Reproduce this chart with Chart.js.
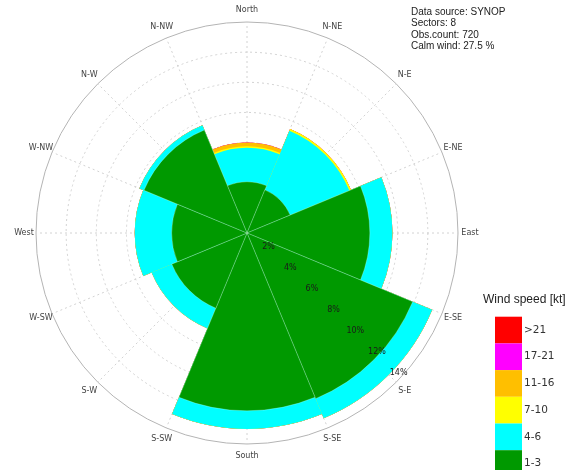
<!DOCTYPE html>
<html>
<head>
<meta charset="utf-8">
<title>Wind rose</title>
<script src="https://cdn.jsdelivr.net/npm/chart.js@4.4.0/dist/chart.umd.min.js"></script>
<style>
  html, body { margin: 0; padding: 0; background: #fff; }
  #wrap { width: 576px; height: 470px; overflow: hidden; }
</style>
</head>
<body>
<div id="wrap"><canvas id="rose" width="576" height="470"></canvas></div>
<script>
/* ── Data (percent of observations per sector) ─────────────── */
const sectors    = ['North', 'N-E', 'East', 'S-E', 'South', 'S-W', 'West', 'N-W'];
const directions = ['N-NW', 'North', 'N-NE', 'N-E', 'E-NE', 'East', 'E-SE', 'S-E',
                    'S-SE', 'South', 'S-SW', 'S-W', 'W-SW', 'West', 'W-NW', 'N-W'];

const speedClasses = ['1-3', '4-6', '7-10', '11-16', '17-21', '>21'];
const classColors  = ['#009900', '#00ffff', '#ffff00', '#ffbf00', '#ff00ff', '#ff0000'];

const speed1to3   = [3.4, 3.1, 8.15, 11.9, 11.8, 5.4, 5.0, 7.4];
const speed4to6   = [2.25, 4.25, 1.5, 1.4, 1.2, 1.45, 2.45, 0.33];
const speed7to10  = [0.1, 0.12, 0, 0, 0, 0, 0, 0];
const speed11to16 = [0.25, 0, 0, 0, 0, 0, 0, 0];
const speed17to21 = [0, 0, 0, 0, 0, 0, 0, 0];
const speedOver21 = [0, 0, 0, 0, 0, 0, 0, 0];

const radialTicks = [2, 4, 6, 8, 10, 12, 14];
const infoLines   = ['Data source: SYNOP', 'Sectors: 8', 'Obs.count: 720', 'Calm wind: 27.5 %'];

/* ── Stacking: polar area has no stack, so overlay cumulative sums ── */
const classSeries = [speed1to3, speed4to6, speed7to10, speed11to16, speed17to21, speedOver21];
const cumulative = classSeries.map((_, k) =>
  sectors.map((_, i) => classSeries.slice(0, k + 1).reduce((s, arr) => s + arr[i], 0))
);

const datasets = cumulative.map((data, k) => ({
  label: speedClasses[k],
  data,
  backgroundColor: classColors[k],
  borderColor: 'rgba(255,255,255,0.35)',
  borderWidth: k === 0 ? 0.7 : 0
}));

/* ── Labels, ticks, info box and legend ─────────────────────── */
const roseDecor = {
  id: 'roseDecor',
  afterDatasetsDraw(chart) {
    const ctx = chart.ctx;
    const r = chart.scales.r;
    ctx.save();
    ctx.textAlign = 'center';
    ctx.textBaseline = 'middle';

    // compass labels
    ctx.font = '8px "DejaVu Sans"';
    ctx.fillStyle = '#444';
    directions.forEach((d, i) => {
      const p = r.getPointPosition(i, r.drawingArea + 12);
      ctx.fillText(d, p.x, p.y);
    });

    // radial tick labels on the SE diagonal, over the bars
    const a = 44 * Math.PI / 180;
    ctx.fillStyle = '#1a1a1a';
    radialTicks.forEach(v => {
      const dist = r.getDistanceFromCenterForValue(v) - 5;
      const x = r.xCenter + dist * Math.cos(a) + 5 * Math.sin(a);
      const y = r.yCenter + dist * Math.sin(a) - 5 * Math.cos(a);
      ctx.fillText(v + '%', x, y);
    });

    // info text
    ctx.textAlign = 'left';
    ctx.textBaseline = 'alphabetic';
    ctx.font = '10px "Liberation Sans"';
    ctx.fillStyle = '#222';
    infoLines.forEach((t, i) => ctx.fillText(t, 411, 14.5 + i * 11.5));

    // legend
    ctx.font = '12px "Liberation Sans"';
    ctx.fillStyle = '#222';
    ctx.textBaseline = 'middle';
    ctx.fillText('Wind speed [kt]', 483, 300);

    const boxX = 495, boxW = 27, boxH = 26.7, top = 316.7;
    ctx.font = '10.5px "DejaVu Sans"';
    for (let k = speedClasses.length - 1, row = 0; k >= 0; k--, row++) {
      const y = top + row * boxH;
      ctx.fillStyle = classColors[k];
      ctx.fillRect(boxX, y, boxW, boxH);
      ctx.fillStyle = '#333';
      ctx.fillText(speedClasses[k], boxX + boxW + 2, y + boxH / 2);
    }
    ctx.restore();
  }
};

/* ── Chart ─────────────────────────────────────────────────── */
new Chart(document.getElementById('rose'), {
  type: 'polarArea',
  data: { labels: sectors, datasets },
  options: {
    responsive: false,
    animation: false,
    layout: { padding: { left: 36, top: 22, right: 118, bottom: 26 } },
    plugins: {
      legend: { display: false },
      tooltip: { enabled: false }
    },
    scales: {
      r: {
        min: 0,
        max: 14,
        startAngle: -22.5,
        labels: directions,
        ticks: { display: false, stepSize: 2 },
        grid: {
          circular: true,
          lineWidth: 1,
          color: c => (c.tick && c.tick.value === 14) ? '#b4b4b4' : '#d2d2d2'
        },
        border: {
          dash: c => (c.tick && c.tick.value === 14) ? [] : [2, 3]
        },
        angleLines: { display: true, color: '#d2d2d2', lineWidth: 1, borderDash: [2, 3] },
        pointLabels: { display: false }
      }
    }
  },
  plugins: [roseDecor]
});
</script>
</body>
</html>
